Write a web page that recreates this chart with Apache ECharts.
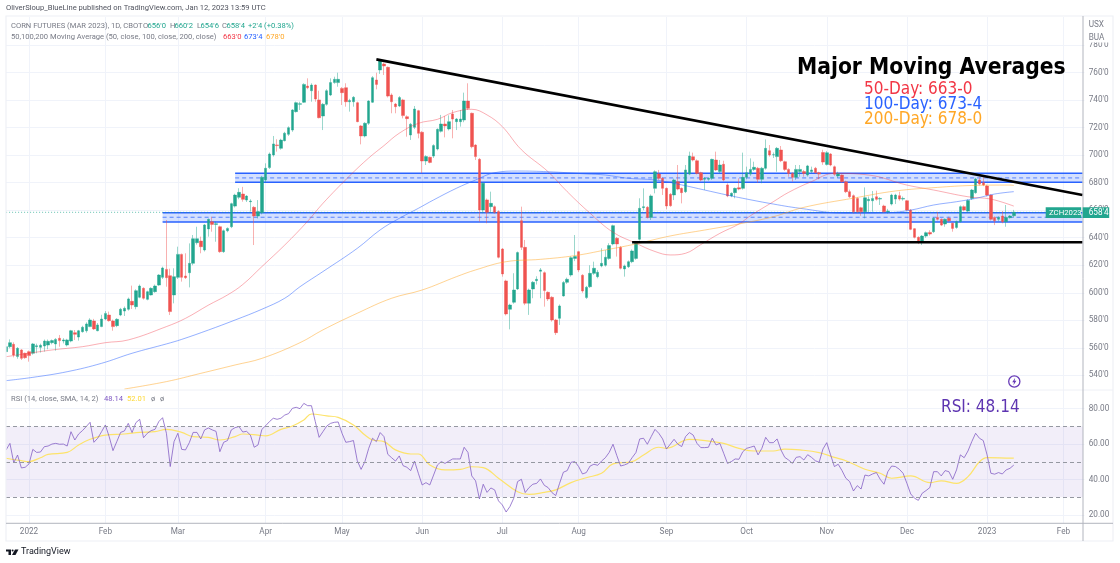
<!DOCTYPE html>
<html>
<head>
<meta charset="utf-8">
<style>html,body{margin:0;padding:0;background:#fff}#chart{width:1120px;height:563px}</style>
<script src="https://cdn.jsdelivr.net/npm/echarts@6/dist/echarts.min.js"></script>
</head>
<body>
<div id="chart"></div>
<script>
// month labels and how many trading bars each one has on the time scale
const monthLabels = ['', '2022', 'Feb', 'Mar', 'Apr', 'May', 'Jun', 'Jul', 'Aug', 'Sep', 'Oct', 'Nov', 'Dec', '2023', 'Feb'];
const barsPerMonth = [6, 20, 19, 23, 20, 21, 21, 20, 23, 21, 21, 21, 21, 20, 6];

const priceTicks = [540, 560, 580, 600, 620, 640, 660, 680, 700, 720, 740, 760, 780];
const rsiTicks = [20, 40, 60, 80];

const opens = [
  557.2,560.8,562.5,553.6,558.4,556,557.2,556,560.8,560.3,
  561.3,562,563.7,562.8,566.9,564.9,562,564.9,571,567.8,
  571.7,572.4,575.4,579.5,572.4,575.4,580.9,583.8,579.5,576.1,
  583.8,586.7,588,593.8,589.9,596.7,603.2,595.2,598.4,600.8,
  605.6,611.2,617,612.4,598.4,611.2,627.9,612.2,614.6,621.4,
  636.4,637.6,631.1,646.4,651.7,649.7,648,629.9,645.1,648,
  663,669.4,671.8,667.4,666.2,662.1,655.8,658.2,682,691,
  700.2,707.5,705,710.6,715.2,718.3,731.7,737,738.5,750.3,
  746.9,751,740.2,728.5,737,743.8,752.8,752.8,748.6,749.1,
  738.9,738.9,738.2,721.3,714,723.2,738.5,754.7,762,766.3,
  763.9,743.8,737.2,735.8,740.2,728,714.7,720.3,732.4,716.7,
  695.8,698.5,699.4,704.5,717.4,722.7,719.1,730,724.4,724.4,
  725.6,739.4,730.5,707.4,697,660.2,667.5,662.6,662.6,659,
  631.8,608.6,588,593.1,602.8,652.4,633,592.4,602.8,608.8,
  615.6,614.6,600.3,596.7,580.2,581.4,597.7,607.6,612.9,625,
  629.9,612.7,596.5,604.4,614.1,611.7,619.5,620,625,635.5,
  639.6,633,617.3,619,622.6,625,638.9,661.9,662.1,654.8,
  675.9,686.3,683.2,675.9,671.6,671.1,680.8,675.9,673.5,686.3,
  698.9,696,687.3,682.5,682.5,683.2,696.5,688.1,693.4,678.4,
  670.4,672.8,676.4,675.9,683.9,686.3,689.7,690.5,682.5,690.5,
  703.3,700.2,699,703.8,695.3,689.7,686.8,683.9,688.1,688.1,
  685.6,688.1,690.5,687.3,702,693.3,700.9,691.6,684.9,685.6,
  680.7,673.5,670.6,668.6,661.8,658.9,666.9,666.9,669.8,668.1,
  663.1,658.9,664.5,668.1,670.6,668.1,666.9,660.1,646.6,640.3,
  637.1,641.2,643.9,644.4,654.8,653.4,650,654.1,650.5,647.5,
  651.7,662.6,659.4,668.6,672.7,682,680,677.6,671,654.8,
  653.4,655.8,651.7,654.6,656
];
const closes = [
  560.8,563.7,554.8,559.6,552.3,552.8,554.3,562.8,561.5,561.8,
  564.9,564.7,565.2,566.1,565.2,565.7,565.7,572.4,569.8,572.4,
  574.9,577.3,580.2,573.7,576.6,580.9,585,579.7,575.4,580.7,
  588,588.7,595.5,591.1,601.5,604.9,596,600.8,603.2,604.9,
  612.9,618,611,586.3,611.7,627.9,611.2,611,621.4,639.3,
  639.3,633.5,649.3,653.4,649.7,650.2,629.9,645.1,646.8,664.8,
  671,673,667.9,670.3,666.7,655.8,659,684,690.5,700.9,
  708.2,707,711,716,720,732.9,738.2,737.5,751.5,749.1,
  751,740.9,727.3,737,746.9,752.8,755.2,755.2,745.5,738.9,
  739.7,742.1,724.4,714,723.2,739.4,756.4,751.5,768.5,764.9,
  743,738.9,735.3,741.9,728.8,726.6,722.5,733.6,715.9,695.8,
  699,694.8,707,718.8,722.7,721.3,724.4,726.3,726.3,726.3,
  739.4,734.1,706.2,699,660.2,679.6,658.5,665,658.5,625.8,
  613.7,584.6,591.1,602,629.2,633,592.4,602,607.6,609.8,
  616.6,601.6,595.5,580.2,571,590.4,607.4,609.8,625.5,626.3,
  616.6,601.3,604,614.1,617.8,614.9,621.4,625.8,634.3,648.8,
  635.5,617.8,619.5,622.6,630.4,636,661.4,662.6,654.8,670.4,
  688,683.2,675.9,663.1,663.3,682,675.4,672.8,689.3,699.4,
  696.5,686.8,682,683.2,683.2,697,689.3,692.9,682,670.4,
  672.3,675.9,675.4,683.9,687.3,689.7,691.2,682.5,690.5,705,
  700.2,700.4,705,696,689.7,686.8,683.9,689.7,689.7,686.8,
  692.2,689.3,687.3,686.3,695,701.8,692.9,686.1,686.8,680.7,
  673.5,669.8,658.9,658.9,658.9,669.1,667.9,668.6,667.9,668.6,
  658.9,659.4,671,671,668.1,668.6,660.1,646.1,640.3,637.1,
  641.2,643.7,642.7,654.1,653.4,649.2,653.4,652.4,646.8,651.7,
  662.6,660.1,667,674.7,682.7,679,678.3,671,653.4,652.4,
  654.8,651.7,654.8,655.8,658.5
];
const lows = [
  556,559.6,553,552,551.1,552,549.9,555,556,556.5,
  557.2,558.9,562.5,557.9,560.8,563.2,561,564,565.7,565.2,
  571,571,575,572.9,572,575,580,579,572.4,575,
  583,583.1,587,588.2,588,596,595,594.5,598,600,
  605,610,604.4,583.8,592.3,610,608.1,610,603.9,620,
  635,628.7,630,640.8,644.4,637.1,629,629,644,647,
  662,668,666.2,666,659,634.7,654,657,680,690,
  699,702.6,704,710,714,717,731,732.9,738,748,
  738.9,738.9,726.8,718.3,736,743,752,749.8,736.5,735.3,
  731.7,735.3,724,707.9,713,722,738,747.9,759.1,758.3,
  742,730.5,730.5,735,726.8,713.5,711.1,719,712.3,686.9,
  692.9,694.1,698,703.5,716.5,713,718,712.3,718.3,720.8,
  724,732.9,705,696.5,651.7,657.8,650.5,658,657.5,625,
  611.7,583.5,573.4,592,602,631.1,591,583.9,596,606,
  596,589.9,594,579,569.3,576.6,597.2,606.5,611.7,623,
  615,600,595.5,603.5,613,610.5,618.5,619,624,634.5,
  626.3,617,611.7,618,621.5,624,638,660,654,652.9,
  672.3,682,671.1,660.7,662.5,667.4,674.5,665,672.5,685.5,
  695.5,686,681,674.7,681.5,682,688.5,687,681,669.5,
  669.5,668.7,674.5,675,682.5,685,688.5,680,679.6,689.5,
  699,698,688,695,688.5,684.4,680.8,682,684.4,684.4,
  684.5,687,686.5,682.5,693,692.5,692,685,683.5,680,
  672.5,669,657.5,658,656,654.1,658.5,658.9,667,663.8,
  658,657.5,663.5,664.5,667,667,659.5,645.5,639.5,635.4,
  634.7,640,641.5,643.5,652.5,648.5,648,651.5,644.4,646.5,
  651,659.5,658.5,667.5,672,678,677.5,670,652.5,649.2,
  652,650.5,648,654,654.75
];
const highs = [
  562,566.1,564,560.5,559,556.5,558,563.5,563,563,
  566,566,566,567,569.3,567,566.5,573,572.9,573,
  576,578.5,581.5,581,578,584,586.7,586.3,580.5,581.5,
  589,590,596.5,605.2,602.5,606,604,601.5,604,606,
  613.5,619,652.9,617.5,617.8,633.5,628.5,628.7,635.9,642,
  648,640.8,650,654,655.3,651.7,648.8,646,647.5,665.5,
  672,676,677,671,668,663,667.4,685,694.1,702,
  714,711.6,712,717,721,733.5,739,738.9,752.3,755.9,
  752.3,751.5,746.9,738,748,755.9,757.1,760,749.5,752.3,
  741,743,739,722,724,740,757.5,760,769.2,767.3,
  764.5,745,738,743,741,729,723.5,735.8,733,717.5,
  700,699,708,719.5,729.3,728.5,729,732.9,727,732.9,
  745.5,752.3,731,708,698,680.5,668.5,673.5,663.5,660,
  632.5,609.5,592,614.2,630,662.6,638.4,603,608.5,612,
  618,615.5,601,597.5,581,591.5,608.5,611,626.5,642,
  630.5,613.5,605,620,622.6,616.6,632.3,631,636,649.5,
  640.5,634,620.5,623.5,631.5,637,668.7,675.9,663,671.5,
  689,689.3,684,676.5,672.5,683,692.9,676.5,692.9,702.6,
  701.9,697,688,684,684,697.5,702.6,696.5,696,679.5,
  673,676.5,683.2,701.9,691.7,697.7,695.3,691.5,691.5,711.5,
  707.4,702,706,706.7,696,690.5,687.5,692.9,692.9,689.3,
  693,691.7,691.5,688,704,703,701.5,692.5,688,686,
  681.5,675,671.5,669.5,662.5,676.6,670,674,674.2,669.5,
  664,661,672,672,673.5,670,667.5,660.8,647,641,
  642,644.5,645.5,655,658.9,654,654,655.3,651,652.5,
  663.5,663.5,668,675.5,683.5,683.9,685.6,678.5,671.5,655.5,
  655.5,659.4,663.8,656.5,660.25
];

const ma50 = [[0,553.5],[12,558.4],[20,560.8],[26,563.7],[32,565.7],[42,575.4],[47,581.4],[53,591],[58,598.4],[62,606],[67,619],[73,634.7],[79,652],[83,665],[90,685],[95,698],[99,707],[103,716],[108,723.2],[113,726.1],[117,731],[122,733.4],[126,729.3],[130,720.8],[135,704],[142,688],[147,673.5],[153,657.8],[159,644],[165,636],[170,630],[174,627.5],[178,628.7],[182,635],[187,643.2],[192,650],[195,656],[201,666.2],[205,673],[211,680.8],[217,686.8],[226,685.6],[236,678.3],[243,674.7],[252,669.8],[258,668.1],[264,663]];
const ma100 = [[0,536.1],[7,538.5],[16,542.6],[25,548.7],[33,556],[42,562.8],[46,566.1],[53,572.9],[60,580.2],[67,588],[73,596],[77,604.4],[83,615.4],[92,632.3],[98,645.7],[103,654.1],[108,661.4],[112,667.5],[118,676],[123,682],[128,687.3],[134,688.5],[142,688],[152,686.4],[157,685.6],[163,683.2],[170,682],[177,678.4],[183,674.7],[189,671],[193,668.7],[200,665],[208,661.4],[220,657.8],[231,658.2],[237,660.1],[243,663.8],[249,666.2],[254,668.6],[259,671.8],[264,673.5]];
const ma200 = [[31,530],[42,535.4],[51,541.4],[60,547.5],[67,552.3],[77,563.7],[83,573],[92,585.1],[101,596],[109,602],[118,611.7],[123,616.6],[131,622.6],[140,624.3],[149,627],[157,631.1],[165,635.5],[174,641.3],[183,645.6],[192,650],[201,655.3],[209,662.1],[222,668.8],[233,674],[244,676.6],[253,678],[263,678.3],[264,678]];

const rsi = [
  56.7,60.4,49.5,53.8,46.5,46.9,48.8,57,55.3,55.5,
  58.5,58.9,60,60.4,59.9,60,58.9,67,62.3,65.7,
  67.6,69.9,72.3,61,63.3,67,70.8,64.2,56.3,61.4,
  66.6,67.4,71.7,66.5,72.1,74,63.6,66.1,67.6,68.3,
  72.7,74.9,66.1,47.3,61.4,66.1,57,56.7,60.8,66.6,
  66.6,62.9,68,69.1,68,67.2,55.7,61,62,68,
  69.3,69.9,66.8,67.2,65.1,58.2,59.5,68.3,70.4,72.7,
  74.6,74,74.6,76.4,77.2,80.2,80.8,80,83,81.7,
  81.7,72.7,63.8,67,70.2,71.7,72.3,72.5,66.1,61,
  61.4,62,50.6,45.7,50.1,57.6,63.3,61.4,66.5,64.2,
  54.2,52.3,50.4,53.3,47.8,46.9,45,50.4,43.5,36.9,
  38.2,36.9,42.5,48.2,50.1,49.1,50.4,51.6,51.6,51.6,
  58.2,55.3,42,39.2,29,37.3,32.7,35.2,34.1,27.9,
  25.6,21.6,24.7,29.4,38.8,40.1,32.6,35.4,37.3,37.8,
  40.3,36.7,35.4,32.6,30.9,37.8,44.1,45,49.7,50.1,
  47.3,43.1,43.9,47.6,48.6,48,50.4,52.3,55.3,59.9,
  53.5,47.6,48.2,49.1,52.3,55.2,62.9,63.3,59.9,64.2,
  68.3,66.1,62.9,57.2,59.9,62.7,59.9,58.6,64.2,66.5,
  65.1,60.4,58,58,58.2,63.3,59.5,60.4,54.8,49.1,
  50.1,51.6,51.4,55.7,57.6,58.2,58.9,53.9,57.6,63.8,
  60.8,60.8,62.9,56.7,52.5,51,49.1,52.5,52.9,51,
  54,52.5,50.6,49.7,57.2,60.8,53.9,47.3,48.6,45,
  40.7,38.8,33.5,36.5,34.6,42.5,42,43.1,43.9,40.1,
  37.3,44.4,47.6,47.3,45.8,43.5,37.8,31.8,29.4,28.2,
  32.2,33.7,35.4,44.4,44.4,42,45,44.4,40.1,45.4,
  53.9,52.3,56.1,61.4,66.1,63.3,62,53.9,43.5,43,
  43.9,43.1,45.4,46.3,48.14
];
const rsiSma = [[0,52],[4,50.6],[6,50.1],[9,52.3],[11,54.2],[16,55.3],[19,59.5],[22,62.7],[26,65.1],[31,65.7],[35,66.6],[39,67],[42,68.3],[46,66.6],[49,64.2],[53,63.8],[56,62.3],[60,64.2],[62,65.7],[66,65.1],[68,64.6],[72,68.3],[75,70.2],[78,73.6],[80,77],[84,75.9],[87,75.1],[91,70.8],[94,65.1],[96,62.3],[99,61.4],[102,56.7],[106,54.4],[108,54.4],[111,48.2],[115,45.4],[119,45.7],[122,47.2],[125,46.7],[129,40.7],[134,33.1],[137,31.6],[141,32.7],[144,34.1],[148,38.2],[152,41],[156,43.5],[159,48.8],[164,50.1],[167,53.8],[171,58.2],[173,57.6],[179,62.7],[185,61.4],[188,60.4],[192,57.6],[196,56.1],[201,56.1],[204,57.2],[208,56.7],[213,55.2],[217,52.5],[220,50.6],[225,45.8],[229,43.5],[232,40.7],[237,42],[242,38.2],[245,39.2],[249,37.8],[252,41.6],[255,50],[257,52.3],[262,52.1],[264,52.01]];

// drawings on the price pane: [bar, price] ends and zone top / middle / bottom
const resistanceLine = [[97, 769.7], [282, 671.1]];
const supportLine = [[164, 636.7], [282, 636.7]];
const upperZone = { from: 60, prices: [686.9, 683.5, 680.3] };
const lowerZone = { from: 41, prices: [658.2, 654.9, 651.5] };
const lastPrice = 658.5;

const categories = [];
monthLabels.forEach((label, m) => {
  for (let d = 0; d < barsPerMonth[m]; d++) categories.push(d === 0 ? label : '');
});
const lastBar = categories.length - 1;

const UP = '#22a68f', DOWN = '#ef5350', GRID = '#f0f3fa', TEXT = '#787b86';
const FONT = 'Roboto, "Liberation Sans", sans-serif';
const TITLE_FONT = '"DejaVu Sans Condensed", "DejaVu Sans", sans-serif';

const isMonth = (i, v) => v !== '';

function line(name, data, color, width, type, z, axis, smooth) {
  return {
    name: name, type: 'line', data: data, xAxisIndex: axis || 0, yAxisIndex: axis || 0,
    showSymbol: false, symbol: 'none', silent: true, z: z, smooth: smooth || false,
    lineStyle: { color: color, width: width, type: type || 'solid' }
  };
}

function zoneSeries(zone) {
  const [top, mid, bottom] = zone.prices;
  const edge = p => [[zone.from, p], [lastBar, p]];
  const s = line('zone', edge(top), '#2962ff', 1.6, 'solid', 1);
  s.markArea = {
    silent: true,
    itemStyle: { color: 'rgba(41,98,255,0.2)' },
    data: [[{ xAxis: zone.from, yAxis: top }, { xAxis: lastBar, yAxis: bottom }]]
  };
  return [s, line('zone', edge(mid), 'rgba(41,98,255,0.75)', 1, [4, 3], 1), line('zone', edge(bottom), '#2962ff', 1.6, 'solid', 1)];
}

function label(x, y, text, color, size, extra) {
  return { type: 'text', z: 120, x: x, y: y, silent: true,
    style: Object.assign({ text: text, fill: color, fontSize: size || 7.6, fontFamily: FONT, verticalAlign: 'middle' }, extra || {}) };
}

const chart = echarts.init(document.getElementById('chart'));
chart.setOption({
  animation: false,
  backgroundColor: '#fff',
  grid: [
    { left: 4.2, width: 1080.2, top: 17, height: 373 },
    { left: 4.2, width: 1080.2, top: 390, height: 133 }
  ],
  xAxis: [0, 1].map(g => ({
    type: 'category', gridIndex: g, data: categories,
    axisLine: { show: false },
    axisTick: { show: false },
    axisLabel: g === 1
      ? { interval: isMonth, color: TEXT, fontSize: 8.2, fontFamily: FONT, margin: 5 }
      : { show: false },
    splitLine: { show: true, interval: isMonth, alignWithLabel: true, lineStyle: { color: GRID, width: 1 } }
  })),
  yAxis: [
    { type: 'value', gridIndex: 0, position: 'right', min: 529.3, max: 800.5,
      axisLine: { show: false }, axisTick: { show: false, customValues: priceTicks },
      axisLabel: { customValues: priceTicks, color: TEXT, fontSize: 8.2, fontFamily: FONT, margin: 4.3, padding: [5, 0, 0, 0], formatter: v => v + "'0" },
      splitLine: { show: true, lineStyle: { color: GRID, width: 1 } } },
    { type: 'value', gridIndex: 1, position: 'right', min: 15.4, max: 90.56,
      axisLine: { show: false }, axisTick: { show: false, customValues: rsiTicks },
      axisLabel: { customValues: rsiTicks, color: TEXT, fontSize: 8.2, fontFamily: FONT, margin: 4.3, padding: [5, 0, 0, 0], formatter: v => v.toFixed(2) },
      splitLine: { show: true, lineStyle: { color: GRID, width: 1 } } }
  ],
  series: [
    ...zoneSeries(upperZone),
    ...zoneSeries(lowerZone),
    line('last price', [[0, lastPrice], [lastBar, lastPrice]], 'rgba(34,166,143,0.7)', 1, [1, 2], 2),
    {
      name: 'ZCH2023', type: 'candlestick', xAxisIndex: 0, yAxisIndex: 0, z: 3, silent: true,
      barWidth: 3,
      data: opens.map((o, i) => [o, closes[i], lows[i], highs[i]]),
      itemStyle: {
        color: UP, color0: DOWN, borderWidth: 1,
        borderColor: 'rgba(34,166,143,0.45)', borderColor0: 'rgba(239,83,80,0.45)'
      }
    },
    line('MA 50', ma50, 'rgba(242,54,69,0.4)', 1, 'solid', 4, 0, 0.4),
    line('MA 100', ma100, 'rgba(41,98,255,0.5)', 1, 'solid', 4, 0, 0.4),
    line('MA 200', ma200, 'rgba(255,167,38,0.5)', 1, 'solid', 4, 0, 0.4),
    line('resistance', resistanceLine, '#000', 2.6, 'solid', 5),
    line('support', supportLine, '#000', 2.6, 'solid', 5),
    Object.assign(line('RSI', rsi.map((v, i) => [i, v]), 'rgba(126,87,194,0.75)', 1, 'solid', 4, 1), {
      markArea: {
        silent: true,
        itemStyle: { color: 'rgba(126,87,194,0.1)' },
        data: [[{ yAxis: 70, x: 6 }, { yAxis: 30, x: 1083 }]]
      },
      markLine: {
        silent: true, symbol: 'none', label: { show: false },
        lineStyle: { color: '#9598a1', type: [4, 3], width: 1 },
        data: [70, 50, 30].map(v => [{ yAxis: v, x: 6 }, { yAxis: v, x: 1083 }])
      }
    }),
    line('RSI SMA', rsiSma, '#fde36a', 1.2, 'solid', 3, 1, 0.4)
  ],
  graphic: [
    // page chrome around the panes
    { type: 'rect', z: 100, silent: true, shape: { x: 0, y: 0, width: 6, height: 563 }, style: { fill: '#fff' } },
    { type: 'rect', z: 101, silent: true, shape: { x: 6, y: 16, width: 1107, height: 525 }, style: { fill: 'none', stroke: '#eef0f6', lineWidth: 1.2 } },
    { type: 'line', z: 101, silent: true, shape: { x1: 6, y1: 390, x2: 1113, y2: 390 }, style: { stroke: '#eef0f6', lineWidth: 1 } },
    { type: 'line', z: 102, silent: true, shape: { x1: 6, y1: 523.3, x2: 1113, y2: 523.3 }, style: { stroke: '#b2b5be', lineWidth: 1 } },
    { type: 'line', z: 102, silent: true, shape: { x1: 1083, y1: 16, x2: 1083, y2: 541 }, style: { stroke: '#b2b5be', lineWidth: 1 } },

    label(6, 8.5, 'OliverSloup_BlueLine published on TradingView.com, Jan 12, 2023 13:59 UTC', '#50535e', 7.6),

    label(11, 26, 'CORN FUTURES (MAR 2023), 1D, CBOT', TEXT),
    label(143, 26, 'O', TEXT), label(147.5, 26, "656'0", UP),
    label(170, 26, 'H', TEXT), label(174.5, 26, "660'2", UP),
    label(197, 26, 'L', TEXT), label(200.5, 26, "654'6", UP),
    label(222, 26, 'C', TEXT), label(226.5, 26, "658'4", UP),
    label(248, 26, "+2'4 (+0.38%)", UP),
    label(11, 37, '50,100,200 Moving Average (50, close, 100, close, 200, close)', TEXT),
    label(223, 37, "663'0", '#f23645'),
    label(244, 37, "673'4", '#2962ff'),
    label(266, 37, "678'0", '#ffa726'),

    label(11, 399.5, 'RSI (14, close, SMA, 14, 2)', TEXT),
    label(104, 399.5, '48.14', '#7e57c2'),
    label(127, 399.5, '52.01', '#fdd835'),
    label(151, 399.5, 'ø', TEXT),
    label(160, 399.5, 'ø', TEXT),

    // currency / unit block on the scale, it covers the 780 label
    { type: 'rect', z: 110, silent: true, shape: { x: 1084, y: 18, width: 28, height: 24.5 }, style: { fill: '#fff' } },
    label(1088.7, 25, 'USX', TEXT, 8.2),
    label(1088.7, 38, 'BUA', TEXT, 8.2),

    // last price tags
    { type: 'rect', z: 110, silent: true, shape: { x: 1045.7, y: 207.3, width: 35.5, height: 10.7 }, style: { fill: UP } },
    { type: 'rect', z: 110, silent: true, shape: { x: 1082.7, y: 207.3, width: 26.5, height: 10.7 }, style: { fill: UP } },
    label(1049, 212.8, 'ZCH2023', '#fff', 7.8),
    label(1088.7, 212.8, "658'4", '#fff', 8.2),

    label(797, 68, 'Major Moving Averages', '#000', 22.6, { fontFamily: TITLE_FONT, fontWeight: 'bold' }),
    label(864, 90, '50-Day: 663-0', '#f23645', 17, { fontFamily: TITLE_FONT }),
    label(864, 105, '100-Day: 673-4', '#2962ff', 17, { fontFamily: TITLE_FONT }),
    label(864, 120, '200-Day: 678-0', '#ffa726', 17, { fontFamily: TITLE_FONT }),
    label(941, 408, 'RSI: 48.14', '#5e35b1', 17, { fontFamily: TITLE_FONT }),

    // lightning badge
    { type: 'circle', z: 110, silent: true, shape: { cx: 1014.3, cy: 381.5, r: 5.6 }, style: { fill: '#fff', stroke: '#673ab7', lineWidth: 1.3 } },
    { type: 'polygon', z: 111, silent: true, shape: { points: [[1015.2, 377.8], [1012.2, 382.2], [1014, 382.2], [1013.4, 385.2], [1016.4, 380.8], [1014.6, 380.8]] }, style: { fill: '#673ab7' } },

    // TradingView mark
    { type: 'polygon', z: 110, silent: true, shape: { points: [[6, 549.5], [11, 549.5], [11, 555], [8.5, 555], [8.5, 551.5], [6, 551.5]] }, style: { fill: '#131722' } },
    { type: 'circle', z: 110, silent: true, shape: { cx: 12.6, cy: 550.5, r: 1 }, style: { fill: '#131722' } },
    { type: 'polygon', z: 110, silent: true, shape: { points: [[15, 549.5], [18.5, 549.5], [15.5, 555], [12, 555]] }, style: { fill: '#131722' } },
    label(21, 552, 'TradingView', '#131722', 9)
  ]
});
</script>
</body>
</html>
